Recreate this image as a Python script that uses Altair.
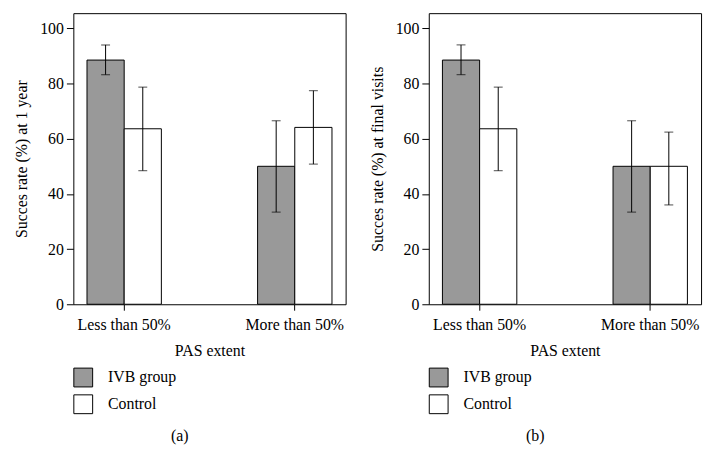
import altair as alt
import pandas as pd

categories = ["Less than 50%", "More than 50%"]
groups = ["IVB group", "Control"]
y_ticks = [0, 20, 40, 60, 80, 100]

# Panel (a): success rate at 1 year
ivb_a = [88.5, 50.0]
ivb_a_lo = [83.2, 33.4]
ivb_a_hi = [94.0, 66.5]
ctl_a = [63.6, 64.1]
ctl_a_lo = [48.4, 50.8]
ctl_a_hi = [78.7, 77.4]

# Panel (b): success rate at final visits
ivb_b = [88.5, 50.0]
ivb_b_lo = [83.2, 33.4]
ivb_b_hi = [94.0, 66.5]
ctl_b = [63.6, 50.0]
ctl_b_lo = [48.4, 36.0]
ctl_b_hi = [78.7, 62.4]

FONT = "Liberation Serif"
SQUARE = "M-1,-1L1,-1L1,1L-1,1Z"


def make_df(ivb, ivb_lo, ivb_hi, ctl, ctl_lo, ctl_hi):
    rows = []
    for i, c in enumerate(categories):
        rows.append(dict(cat=c, grp=groups[0], val=ivb[i], lo=ivb_lo[i], hi=ivb_hi[i]))
        rows.append(dict(cat=c, grp=groups[1], val=ctl[i], lo=ctl_lo[i], hi=ctl_hi[i]))
    return pd.DataFrame(rows)


def panel(df, ytitle, label):
    base = alt.Chart(df)
    x = alt.X(
        "cat:N",
        sort=categories,
        scale=alt.Scale(paddingInner=0.564, paddingOuter=0.08),
        axis=alt.Axis(
            title="PAS extent", labelAngle=0, domain=False, tickSize=6,
            labelPadding=6, titlePadding=11,
        ),
    )
    xo = alt.XOffset("grp:N", sort=groups, scale=alt.Scale(paddingInner=0, paddingOuter=0))
    yscale = alt.Scale(domain=[0, 105.5], nice=False)
    yaxis = alt.Axis(values=y_ticks, tickSize=7, domain=False, grid=False,
                     labelPadding=3, titlePadding=10)

    bars = base.mark_bar(stroke="black", strokeWidth=1, opacity=1).encode(
        x=x,
        xOffset=xo,
        y=alt.Y("val:Q", scale=yscale, axis=yaxis, title=ytitle),
        color=alt.Color(
            "grp:N",
            sort=groups,
            scale=alt.Scale(domain=groups, range=["#999999", "#ffffff"]),
            legend=alt.Legend(
                title=None, orient="none", legendX=0, legendY=358,
                symbolType=SQUARE, symbolSize=361, symbolStrokeColor="black",
                symbolStrokeWidth=1, symbolOpacity=1,
                labelFont=FONT, labelFontSize=16, labelColor="black",
                labelOffset=15, rowPadding=3,
            ),
        ),
    )
    rules = base.mark_rule(color="black", strokeWidth=1).encode(
        x=x, xOffset=xo,
        y=alt.Y("lo:Q", scale=yscale, axis=yaxis, title=ytitle),
        y2="hi:Q",
    )
    cap_lo = base.mark_tick(color="black", thickness=1, size=9).encode(
        x=x, xOffset=xo, y=alt.Y("lo:Q", scale=yscale, axis=yaxis, title=ytitle),
    )
    cap_hi = base.mark_tick(color="black", thickness=1, size=9).encode(
        x=x, xOffset=xo, y=alt.Y("hi:Q", scale=yscale, axis=yaxis, title=ytitle),
    )
    return alt.layer(bars, rules, cap_lo, cap_hi).properties(
        width=275, height=294,
        title=alt.TitleParams(label, orient="bottom", offset=12, frame="bounds", anchor="middle"),
    )


df_a = make_df(ivb_a, ivb_a_lo, ivb_a_hi, ctl_a, ctl_a_lo, ctl_a_hi)
df_b = make_df(ivb_b, ivb_b_lo, ivb_b_hi, ctl_b, ctl_b_lo, ctl_b_hi)

chart = (
    alt.hconcat(
        panel(df_a, "Succes rate (%) at 1 year", "(a)"),
        panel(df_b, "Succes rate (%) at final visits", "(b)"),
        spacing=22,
    )
    .resolve_legend(color="independent")
    .properties(padding={"left": 5, "top": 2, "right": 5, "bottom": 5}, background="white")
    .configure_view(stroke="black", strokeWidth=1)
    .configure_axis(
        labelFont=FONT, titleFont=FONT, labelFontSize=16, titleFontSize=16,
        titleFontWeight="normal", labelColor="black", titleColor="black",
        tickColor="black", tickWidth=1,
    )
    .configure_title(font=FONT, fontSize=16, fontWeight="normal", color="black")
)

chart.save("out.html", embed_options={"renderer": "svg", "actions": False})
